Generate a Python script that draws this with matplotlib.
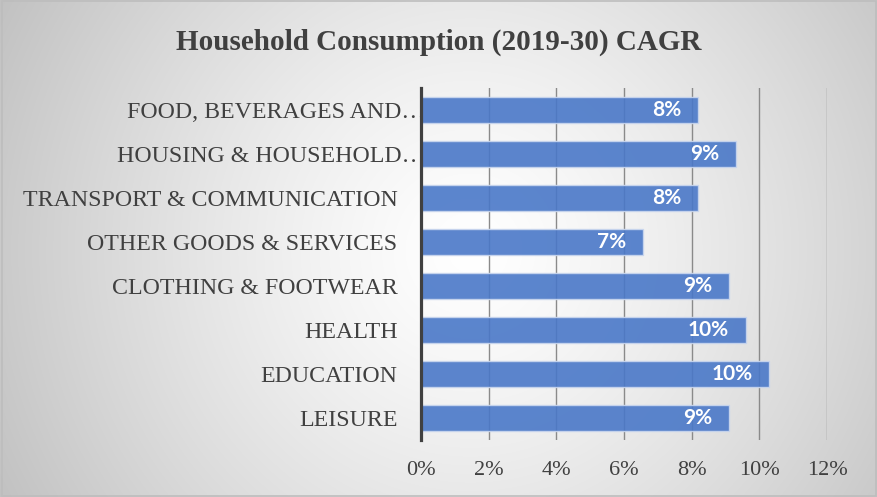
import numpy as np
import matplotlib
matplotlib.use("Agg")
import matplotlib.pyplot as plt
from matplotlib.patches import Rectangle
from matplotlib.transforms import ScaledTranslation
from matplotlib.ticker import PercentFormatter

categories = [
    "FOOD, BEVERAGES AND\u2026",
    "HOUSING & HOUSEHOLD\u2026",
    "TRANSPORT & COMMUNICATION",
    "OTHER GOODS & SERVICES",
    "CLOTHING & FOOTWEAR",
    "HEALTH",
    "EDUCATION",
    "LEISURE",
]
cagr = [0.082, 0.093, 0.082, 0.0655, 0.091, 0.096, 0.103, 0.091]
x_ticks = [0.0, 0.02, 0.04, 0.06, 0.08, 0.10, 0.12]
title = "Household Consumption (2019-30) CAGR"

W, H, DPI = 878, 497, 100
fig = plt.figure(figsize=(W / DPI, H / DPI), dpi=DPI)

# soft radial backdrop
bg = fig.add_axes([0, 0, 1, 1], zorder=-10)
yy, xx = np.mgrid[0:H, 0:W]
d = np.sqrt(((xx - 470) / 560.0) ** 2 + ((yy - 250) / 560.0) ** 2)
g = 255 - 66 * np.clip(d, 0, 1.2) ** 1.3
img = np.dstack([g, g, g]).astype(np.uint8)
bg.imshow(img, aspect="auto", extent=(0, 1, 0, 1), origin="upper")
bg.set_axis_off()
fig.patches.append(Rectangle((0.002, 0.003), 0.996, 0.994, transform=fig.transFigure,
                             fill=False, edgecolor="#bdbdbd", linewidth=1.2))

ax = fig.add_axes([421 / W, 1 - 440 / H, (827 - 421) / W, (440 - 88) / H])
ax.patch.set_alpha(0)

serif = "Liberation Serif"
text_col = "#404040"

y = np.arange(len(categories))
bars = ax.barh(y, cagr, height=0.57, color="#4a78c8", alpha=0.9,
               edgecolor="#c9d6ee", linewidth=1.0, zorder=2)

ax.set_xlim(0, 0.12)
ax.set_ylim(len(categories) - 0.5, -0.5)
ax.set_xticks(x_ticks)
ax.xaxis.set_major_formatter(PercentFormatter(1.0, decimals=0))
ax.set_yticks(y)
ax.set_yticklabels(categories)
ax.grid(axis="x", color="#8a8a8a", linewidth=1.0, zorder=1)
ax.set_axisbelow(True)
for s in ["top", "right", "bottom"]:
    ax.spines[s].set_visible(False)
ax.spines["left"].set_color("#404040")
ax.spines["left"].set_linewidth(2.3)
ax.spines["left"].set_zorder(3)
ax.tick_params(axis="x", length=0, pad=15, labelsize=16, labelcolor=text_col)
ax.tick_params(axis="y", length=0, pad=17, labelsize=17.2, labelcolor=text_col)
for lbl in ax.get_xticklabels() + ax.get_yticklabels():
    lbl.set_fontfamily(serif)

# truncated labels run up to the axis line
for lbl in ax.get_yticklabels()[:2]:
    lbl.set_transform(lbl.get_transform() + ScaledTranslation(20 / 72, 0, fig.dpi_scale_trans))

for rect, v in zip(bars, cagr):
    ax.annotate(f"{v:.0%}", xy=(v, rect.get_y() + rect.get_height() / 2),
                xytext=(-12, 0), textcoords="offset points", ha="right", va="center",
                color="white", fontsize=15, fontweight="bold", family="Lato", zorder=4)

fig.text(0.5, 1 - 50 / H, title, ha="center", va="baseline", fontsize=21,
         fontweight="bold", family=serif, color=text_col)

fig.savefig("out.png", dpi=DPI)
